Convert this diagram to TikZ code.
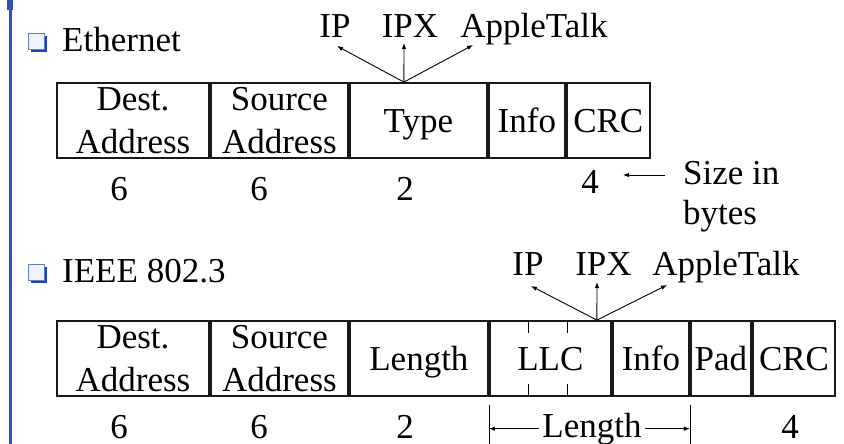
\documentclass[tikz,border=0pt]{standalone}
\usepackage{fontspec}
\setmainfont{Liberation Serif}
\usetikzlibrary{positioning, arrows.meta, calc}
\definecolor{slideblue}{RGB}{42, 86, 176}
\definecolor{bulletedge}{RGB}{95, 125, 190}
\definecolor{bulletfill}{RGB}{238, 243, 252}
\definecolor{bulletshade}{RGB}{30, 70, 160}
\tikzstyle{field} = [rectangle, draw=black!90, line width=1.8pt, minimum height=75pt, inner sep=0pt, align=center]
\tikzstyle{onefield} = [field, text height=24pt, text depth=0pt]
\tikzstyle{bytecount} = [anchor=base]
\tikzstyle{proto} = [anchor=base]
\tikzstyle{heading} = [anchor=base west, inner sep=0pt]
\tikzstyle{ptr} = [-{Latex[length=6pt,width=4.5pt]}, line width=0.9pt]
\tikzstyle{llcmark} = [line width=0.8pt]
\begin{document}
\begin{tikzpicture}[x=1pt, y=-1pt, every node/.style={font=\fontsize{35}{43}\selectfont}]
\useasboundingbox (0,0) rectangle (844,444);

% slide bar
\draw[slideblue, line width=3pt] (10,0) -- (10,444);
\fill[slideblue] (7,0) rectangle (13,10);

% Ethernet
\fill[bulletshade] (31,36) rectangle (47,52);
\draw[bulletedge, fill=bulletfill, line width=0.8pt] (28.5,33.5) rectangle (44,49);
\node (ehead) [heading] at (62,52) {Ethernet};

\node (edest) [field, minimum width=152pt, anchor=north west] at (56.1,82.1) {Dest.\\Address};
\node (esrc) [field, minimum width=137.2pt, right=0pt of edest] {Source\\Address};
\node (etype) [onefield, minimum width=137.2pt, right=0pt of esrc] {Type};
\node (einfo) [onefield, minimum width=76.2pt, right=0pt of etype] {Info};
\node (ecrc) [onefield, minimum width=83pt, right=0pt of einfo] {CRC};

\node (edestn) [bytecount] at (119,200) {6};
\node (esrcn) [bytecount] at (259,200) {6};
\node (etypen) [bytecount] at (405,200) {2};
\node (ecrcn) [bytecount] at (590,193) {4};

% size note
\node (sizenote) [anchor=north west, inner sep=0pt, align=left, font=\fontsize{35}{40}\selectfont] at (683,161) {Size in\\bytes};
\coordinate (sizetail) at (665,175);
\coordinate (sizehead) at (623,175);
\draw [ptr] (sizetail) -- (sizehead);

% Ethernet type demux
\node (eip) [proto] at (335,38) {IP};
\node (eipx) [proto] at (410,38) {IPX};
\node (eat) [proto] at (534,38) {AppleTalk};
\coordinate (efan) at ([xshift=-14.5pt]etype.north);
\coordinate (eiptip) at (337,46);
\coordinate (eipxtip) at (404,43);
\coordinate (eattip) at (473,45);
\draw [ptr] (efan) -- (eiptip);
\draw [ptr] (efan) -- (eipxtip);
\draw [ptr] (efan) -- (eattip);

% IEEE 802.3
\fill[bulletshade] (31,267) rectangle (47,283);
\draw[bulletedge, fill=bulletfill, line width=0.8pt] (28.5,264.5) rectangle (44,280);
\node (ihead) [heading] at (62,282) {IEEE 802.3};

\node (idest) [field, minimum width=152pt, anchor=north west] at (56.1,320.1) {Dest.\\Address};
\node (isrc) [field, minimum width=137.2pt, right=0pt of idest] {Source\\Address};
\node (ilen) [onefield, minimum width=138.2pt, right=0pt of isrc] {Length};
\node (illc) [onefield, minimum width=121.2pt, right=0pt of ilen] {LLC};
\node (iinfo) [onefield, minimum width=76.2pt, right=0pt of illc] {Info};
\node (ipad) [onefield, minimum width=60.2pt, right=0pt of iinfo] {Pad};
\node (icrc) [onefield, minimum width=82.5pt, right=0pt of ipad] {CRC};

% LLC sub-fields
\foreach \dx in {39,78} {
  \draw [llcmark] ([xshift=\dx pt]illc.north west) -- ++(0,13);
  \draw [llcmark] ([xshift=\dx pt]illc.south west) -- ++(0,-13);
}

\node (idestn) [bytecount] at (119,438) {6};
\node (isrcn) [bytecount] at (259,438) {6};
\node (ilenn) [bytecount] at (405,438) {2};
\node (icrcn) [bytecount] at (790,438) {4};

% length span
\draw [llcmark] ([yshift=-8pt]illc.south west) -- ++(0,39);
\draw [llcmark] ([yshift=-8pt]ipad.south west) -- ++(0,39);
\node (ispan) [bytecount] at (592,437) {Length};
\draw [ptr] (ispan.west) -- (ispan.west -| illc.south west);
\draw [ptr] (ispan.east) -- (ispan.east -| ipad.south west);

% LLC demux
\node (iip) [proto] at (528,275) {IP};
\node (iipx) [proto] at (603.5,275) {IPX};
\node (iat) [proto] at (726,275) {AppleTalk};
\coordinate (ifan) at ([xshift=46.5pt]illc.north);
\coordinate (iiptip) at (531,286);
\coordinate (iipxtip) at (597,282);
\coordinate (iattip) at (667,285);
\draw [ptr] (ifan) -- (iiptip);
\draw [ptr] (ifan) -- (iipxtip);
\draw [ptr] (ifan) -- (iattip);

\end{tikzpicture}
\end{document}
